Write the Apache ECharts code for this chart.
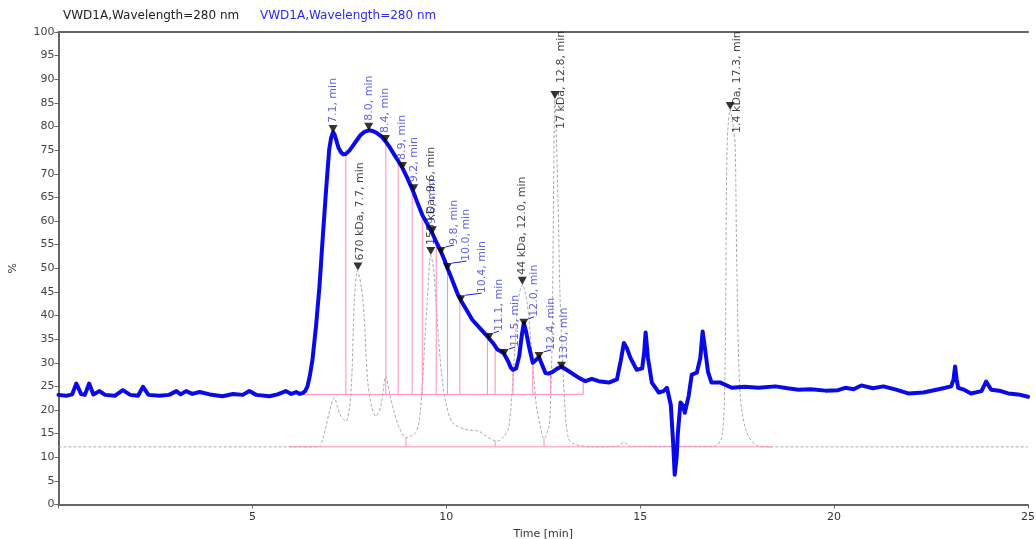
<!DOCTYPE html>
<html><head><meta charset="utf-8">
<script src="https://cdn.jsdelivr.net/npm/echarts@6/dist/echarts.min.js"></script>
<style>html,body{margin:0;padding:0;background:#fff}#c{width:1036px;height:539px}</style>
</head><body><div id="c"></div>
<script>
// ---- data ----
const traceTitle = 'VWD1A,Wavelength=280 nm';
const xAxisName = 'Time [min]';
const yAxisName = '%';

const sampleTime = [0,0.2,0.35,0.46,0.58,0.68,0.79,0.9,1.06,1.2,1.45,1.66,1.85,2.05,2.18,2.32,2.6,2.85,3.04,3.15,3.29,3.45,3.64,3.9,4.23,4.5,4.75,4.92,5.1,5.44,5.65,5.86,6.0,6.13,6.22,6.3,6.36,6.42,6.48,6.55,6.64,6.73,6.81,6.9,6.98,7.03,7.08,7.12,7.16,7.22,7.28,7.34,7.41,7.5,7.58,7.7,7.8,7.9,8.01,8.12,8.23,8.34,8.44,8.55,8.66,8.77,8.87,9.0,9.13,9.25,9.38,9.5,9.64,9.75,9.86,9.95,10.03,10.12,10.2,10.28,10.37,10.5,10.67,10.9,11.1,11.22,11.32,11.41,11.49,11.6,11.66,11.72,11.8,11.88,11.95,12.0,12.06,12.13,12.23,12.31,12.39,12.47,12.56,12.64,12.73,12.85,12.97,13.16,13.42,13.59,13.75,13.93,14.19,14.4,14.5,14.58,14.66,14.75,14.91,15.05,15.1,15.14,15.2,15.3,15.48,15.6,15.69,15.79,15.85,15.89,15.94,15.97,16.04,16.1,16.15,16.25,16.33,16.46,16.55,16.61,16.67,16.75,16.84,17.07,17.36,17.7,18.05,18.49,18.8,19.08,19.4,19.78,20.1,20.29,20.5,20.7,21.0,21.27,21.6,21.91,22.3,22.76,23.02,23.08,23.12,23.16,23.2,23.35,23.53,23.8,23.92,24.05,24.3,24.49,24.75,25];
const sampleValue = [23.2,23.0,23.3,25.6,23.4,23.2,25.6,23.3,24.0,23.2,23.0,24.2,23.2,23.0,24.9,23.2,23.0,23.2,24.0,23.3,24.0,23.4,23.8,23.3,22.9,23.4,23.2,24.0,23.2,22.9,23.3,24.0,23.4,23.8,23.4,23.6,24.0,25.0,27.2,30.7,37.7,46.2,56.0,66.6,75.1,77.6,78.8,78.3,77.2,75.5,74.6,74.1,74.2,74.9,75.8,77.2,78.3,78.9,79.2,79.0,78.5,77.8,76.8,75.5,74.0,72.6,71.2,69.0,66.6,64.0,61.3,59.5,57.4,55.4,53.6,51.8,50.0,48.2,46.5,44.8,43.3,41.5,39.1,37.0,35.2,34.0,32.8,32.4,31.9,30.2,29.0,28.5,28.8,31.4,36.0,38.4,36.5,33.5,30.0,30.6,31.2,29.6,27.8,27.7,28.0,28.7,29.2,28.2,26.8,26.1,26.6,26.1,25.8,26.5,30.5,34.2,33.0,31.0,28.5,28.8,32.0,36.4,31.0,25.8,23.7,24.0,24.7,21.0,13.0,6.3,10.0,15.0,21.6,21.0,19.4,23.0,27.5,27.9,31.0,36.6,33.0,28.0,25.8,25.8,24.7,24.9,24.7,25.0,24.6,24.3,24.4,24.1,24.2,24.7,24.4,25.2,24.6,25.0,24.3,23.5,23.7,24.5,25.0,26.5,29.2,26.5,24.7,24.3,23.5,24.0,26.0,24.3,24.0,23.5,23.3,22.8];

const refTime = [0,6.7,6.81,6.98,7.11,7.2,7.28,7.41,7.54,7.63,7.71,7.8,7.88,7.97,8.08,8.18,8.31,8.44,8.55,8.66,8.8,8.96,9.1,9.21,9.3,9.38,9.45,9.51,9.6,9.67,9.73,9.82,9.9,9.99,10.16,10.5,10.84,11.0,11.19,11.32,11.5,11.62,11.75,11.85,11.96,12.08,12.22,12.32,12.39,12.52,12.65,12.68,12.73,12.76,12.8,12.88,12.93,13.0,13.08,13.15,13.25,13.42,13.7,14.4,14.58,14.75,16.9,17.11,17.19,17.24,17.32,17.4,17.45,17.49,17.58,17.75,18.0,18.3,25];
const refValue = [12.2,12.2,13.7,19.4,22.6,20.5,18.7,17.6,23.6,43.3,49.5,46.5,40.0,26.4,20.5,18.7,20.8,27.1,23.0,19.4,16.0,14.1,14.6,15.2,17.5,25.0,35.0,43.3,52.8,50.0,43.3,33.0,26.0,21.5,17.3,15.9,15.5,14.6,13.7,13.4,14.5,16.6,30.7,43.0,46.5,43.0,30.7,21.0,18.0,13.9,16.6,20.0,35.0,60.0,85.8,65.0,45.0,30.0,18.0,14.0,13.0,12.5,12.2,12.3,13.2,12.3,12.3,14.4,30.7,75.7,83.5,80.0,75.7,51.0,22.9,15.2,12.5,12.2,12.2];

const samplePeakTime  = [7.08,8.0,8.43,8.87,9.16,9.64,9.86,10.03,10.37,11.1,11.49,12.0,12.39,12.97];
const samplePeakValue = [78.6,79.1,76.5,70.8,66.1,57.2,52.8,49.4,42.6,34.6,31.2,37.6,30.6,28.5];
const samplePeakLabel = ['7.1, min','8.0, min','8.4, min','8.9, min','9.2, min','9.6, min','9.8, min','10.0, min','10.4, min','11.1, min','11.5, min','12.0, min','12.4, min','13.0, min'];

const refPeakTime  = [7.72,9.6,11.96,12.8,17.32];
const refPeakValue = [49.5,52.8,46.5,85.8,83.5];
const refPeakLabel = ['670 kDa, 7.7, min','158 kDa, 9.6, min','44 kDa, 12.0, min','17 kDa, 12.8, min','1.4 kDa, 17.3, min'];

const sampleBaseline = [6.25, 13.53, 23.3];          // start, end, level
const sampleDropTime = [7.41,8.44,8.76,9.12,9.38,9.74,10.03,10.35,11.06,11.26,11.72,12.23,12.69,13.53];
const sampleDropTop  = [74.3,76.8,72.8,66.7,61.3,55.5,50.0,43.6,35.6,33.3,28.5,30.0,28.0,26.3];
const refBaseline = [5.96, 18.4, 12.2];
const refDropTime = [8.96,11.26,12.52];
const refDropTop  = [14.1,13.4,13.9];

// ---- styles (not data) ----
const sampleLabelShift = [0,0,0,0,0,0,13,19,21,10,11,10,12,3];   // px right
const refLabelShiftX = [2,0,0,6,7];
const refLabelShiftDown = [0,0,0,40,33];

const FONT = 'DejaVu Sans';
const BLUE = '#0a0ae6';
const LBLUE = '#3a3ad8';
const PINK = '#ff8cbc';

function zip(a, b) { return a.map((v, i) => [v, b[i]]); }

const segs = [];
segs.push([sampleBaseline[0], sampleBaseline[2], sampleBaseline[1], sampleBaseline[2]]);
sampleDropTime.forEach((t, i) => segs.push([t, sampleBaseline[2], t, sampleDropTop[i]]));
segs.push([refBaseline[0], refBaseline[2], refBaseline[1], refBaseline[2]]);
refDropTime.forEach((t, i) => segs.push([t, refBaseline[2], t, refDropTop[i]]));

const sampleMarkers = samplePeakTime.map((t, i) => ({
  value: [t, samplePeakValue[i]],
  label: { formatter: samplePeakLabel[i], offset: [0, sampleLabelShift[i]] },
  labelLine: { show: sampleLabelShift[i] > 5 }
}));
const refMarkers = refPeakTime.map((t, i) => ({
  value: [t, refPeakValue[i]],
  label: { formatter: refPeakLabel[i], offset: [-refLabelShiftDown[i], refLabelShiftX[i]] }
}));

const chart = echarts.init(document.getElementById('c'), null, { renderer: 'canvas' });
const axisColor = '#666';
chart.setOption({
  animation: false,
  backgroundColor: '#fff',
  textStyle: { fontFamily: FONT },
  graphic: [
    { type: 'text', left: 63, top: 10, style: { text: traceTitle, fill: '#222', font: '12px "DejaVu Sans"' } },
    { type: 'text', left: 260, top: 10, style: { text: traceTitle, fill: '#2a2af0', font: '12px "DejaVu Sans"' } }
  ],
  grid: { left: 58.5, right: 8, top: 32, bottom: 34.5, containLabel: false, outerBoundsMode: 'none' },
  xAxis: [{
    type: 'value', min: 0, max: 25, interval: 5,
    name: xAxisName, nameLocation: 'middle', nameGap: 24,
    nameTextStyle: { color: '#333', fontSize: 11, fontFamily: FONT },
    axisLine: { show: true, lineStyle: { color: axisColor, width: 2 } },
    axisTick: { show: true, length: 4, lineStyle: { color: axisColor } },
    axisLabel: { color: '#333', fontSize: 11, margin: 7, formatter: v => v === 0 ? '' : String(v) },
    splitLine: { show: false }
  }, {
    type: 'value', min: 0, max: 25, position: 'top',
    axisLine: { show: true, lineStyle: { color: axisColor, width: 2 } },
    axisTick: { show: false }, axisLabel: { show: false }, splitLine: { show: false }
  }],
  yAxis: {
    type: 'value', min: 0, max: 100, interval: 5,
    name: yAxisName, nameLocation: 'middle', nameGap: 40, nameRotate: 90,
    nameTextStyle: { color: '#333', fontSize: 11, fontFamily: FONT },
    axisLine: { show: true, lineStyle: { color: axisColor, width: 2 } },
    axisTick: { show: true, length: 4, lineStyle: { color: axisColor } },
    axisLabel: { color: '#444', fontSize: 11, margin: 4 },
    splitLine: { show: false }
  },
  series: [
    {
      name: 'reference', type: 'line', z: 1, data: zip(refTime, refValue),
      symbol: 'none', smooth: 0.3,
      lineStyle: { color: '#a8a8a8', width: 1, type: [3, 2] }
    },
    {
      name: 'integration', type: 'custom', z: 2, data: segs,
      encode: { x: [0, 2], y: [1, 3] },
      renderItem: (params, api) => {
        const p0 = api.coord([api.value(0), api.value(1)]);
        const p1 = api.coord([api.value(2), api.value(3)]);
        return { type: 'line', shape: { x1: p0[0], y1: p0[1], x2: p1[0], y2: p1[1] }, style: { stroke: PINK, lineWidth: 1 } };
      }
    },
    {
      name: 'sample', type: 'line', z: 3, data: zip(sampleTime, sampleValue),
      symbol: 'none', smooth: false,
      lineStyle: { color: BLUE, width: 4, join: 'round', cap: 'round' }
    },
    {
      name: 'samplePeaks', type: 'scatter', z: 5, data: sampleMarkers,
      symbol: 'triangle', symbolRotate: 180, symbolSize: [9, 8], symbolOffset: [0, -4],
      itemStyle: { color: '#000' },
      label: { show: true, position: 'top', distance: 2, rotate: 90, align: 'left', verticalAlign: 'middle',
               color: LBLUE, fontSize: 11, fontFamily: FONT },
      labelLine: { lineStyle: { color: '#2222cc', width: 1 } }
    },
    {
      name: 'refPeaks', type: 'scatter', z: 6, data: refMarkers,
      symbol: 'triangle', symbolRotate: 180, symbolSize: [9, 8], symbolOffset: [0, -4],
      itemStyle: { color: '#000' },
      label: { show: true, position: 'top', distance: 2, rotate: 90, align: 'left', verticalAlign: 'middle',
               color: '#111', fontSize: 11, fontFamily: FONT }
    }
  ]
});
</script></body></html>
